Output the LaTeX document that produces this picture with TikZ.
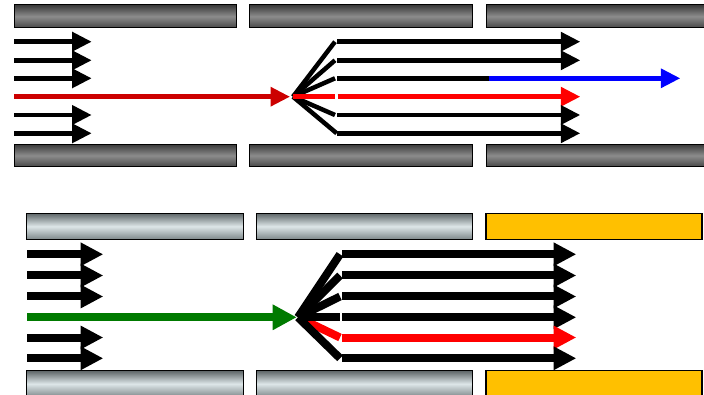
\documentclass[tikz,border=0pt]{standalone}
\usepackage{xcolor}
\usepackage{tikz}
\usetikzlibrary{arrows.meta,calc}
\definecolor{beam}{HTML}{CC0000}
\definecolor{hot}{HTML}{FF0000}
\definecolor{cold}{HTML}{0000FF}
\definecolor{leaf}{HTML}{007A00}
\definecolor{amber}{HTML}{FFC000}
\definecolor{wallTop}{HTML}{3A3A3A}
\definecolor{wallMid}{HTML}{8C8C8C}
\definecolor{wallBot}{HTML}{484848}
\definecolor{glassTop}{HTML}{5E6668}
\definecolor{glassMid}{HTML}{DDE6E8}
\definecolor{glassBot}{HTML}{7E888A}
\tikzset{
  wall/.style={draw=black, line width=1pt, top color=wallTop, bottom color=wallBot, middle color=wallMid},
  glass/.style={draw=black, line width=1.2pt, top color=glassTop, bottom color=glassBot, middle color=glassMid},
  gate/.style={draw=black, line width=1.2pt, fill=amber},
  ray/.style={line width=4.5pt},
  rayhead/.style={ray, -{Triangle[length=19.5pt,width=18.6pt]}},
  bolt/.style={line width=8pt},
  bolthead/.style={bolt, -{Triangle[length=22.6pt,width=22pt]}}
}

\begin{document}
\begin{tikzpicture}[x=1pt,y=-1pt]
  \useasboundingbox (0,0) rectangle (704,395);

  % upper channel walls
  \draw[wall] (14,5) rectangle (236,27.7);
  \draw[wall] (249,5) rectangle (472,27.7);
  \draw[wall] (486.7,5) rectangle (720,27.7);
  \draw[wall] (14,144.3) rectangle (236,166.7);
  \draw[wall] (249,144.3) rectangle (472,166.7);
  \draw[wall] (486.7,144.3) rectangle (720,166.7);

  % lower channel walls
  \draw[glass] (26.7,213.3) rectangle (243.3,239.3);
  \draw[glass] (256.7,213.3) rectangle (472.7,239.3);
  \draw[gate] (486,213.3) rectangle (702,239.3);
  \draw[glass] (26.7,370.7) rectangle (243.3,397);
  \draw[glass] (256.7,370.7) rectangle (472.7,397);
  \draw[gate] (486,370.7) rectangle (702,397);

  % upper: incoming rays
  \coordinate (P) at (293,96.7);
  \coordinate (a1) at (14,41.7);  \coordinate (b1) at (91.7,41.7);
  \coordinate (a2) at (14,60.3);  \coordinate (b2) at (91.7,60.3);
  \coordinate (a3) at (14,78.3);  \coordinate (b3) at (91.7,78.3);
  \coordinate (a5) at (14,115);   \coordinate (b5) at (91.7,115);
  \coordinate (a6) at (14,133.3); \coordinate (b6) at (91.7,133.3);
  \coordinate (a4) at (14,96.7);
  \draw[rayhead] (a1) -- (b1);
  \draw[rayhead] (a2) -- (b2);
  \draw[rayhead] (a3) -- (b3);
  \draw[rayhead] (a5) -- (b5);
  \draw[rayhead] (a6) -- (b6);
  \draw[rayhead, beam] (a4) -- ($(P)+(-3,0)$);

  % upper: fan out of P
  \coordinate (f1) at (335,41.7);  \coordinate (g1) at (337,41.7);  \coordinate (h1) at (580.3,41.7);
  \coordinate (f2) at (335,60.3);  \coordinate (g2) at (337,60.3);  \coordinate (h2) at (580.3,60.3);
  \coordinate (f3) at (335,78.3);  \coordinate (g3) at (337,78.3);  \coordinate (h3) at (488.7,78.3);
  \coordinate (f4) at (335,96.7);  \coordinate (g4) at (337.5,96.7);  \coordinate (h4) at (580.3,96.7);
  \coordinate (f5) at (335,115);   \coordinate (g5) at (337,115);   \coordinate (h5) at (580.3,115);
  \coordinate (f6) at (336.7,133.3); \coordinate (g6) at (337,133.3); \coordinate (h6) at (580.3,133.3);
  \coordinate (out) at (680.3,78.3);
  \draw[ray] (P) -- (f1);
  \draw[ray] (P) -- (f2);
  \draw[ray] (P) -- (f3);
  \draw[ray] (P) -- (f5);
  \draw[ray] (P) -- (f6);
  \draw[ray, hot] (P) -- (f4);
  \draw[rayhead] (g1) -- (h1);
  \draw[rayhead] (g2) -- (h2);
  \draw[ray] (g3) -- (h3);
  \draw[rayhead, cold] (h3) -- (out);
  \draw[rayhead, hot] (g4) -- (h4);
  \draw[rayhead] (g5) -- (h5);
  \draw[rayhead] (g6) -- (h6);

  % lower: incoming bolts
  \coordinate (Q) at (298,317.3);
  \coordinate (c1) at (27,254.3);  \coordinate (d1) at (103.3,254.3);
  \coordinate (c2) at (27,275.5);  \coordinate (d2) at (103.3,275.5);
  \coordinate (c3) at (27,296.5);  \coordinate (d3) at (103.3,296.5);
  \coordinate (c5) at (27,337.5);  \coordinate (d5) at (103.3,337.5);
  \coordinate (c6) at (27,358.3);  \coordinate (d6) at (103.3,358.3);
  \coordinate (c4) at (27,317.3);
  \draw[bolthead] (c1) -- (d1);
  \draw[bolthead] (c2) -- (d2);
  \draw[bolthead] (c3) -- (d3);
  \draw[bolthead] (c5) -- (d5);
  \draw[bolthead] (c6) -- (d6);
  \draw[bolt, leaf, -{Triangle[length=24pt,width=24pt]}] (c4) -- ($(Q)+(-1.3,0)$);

  % lower: fan out of Q
  \coordinate (k1) at (340,254.3);  \coordinate (m1) at (342,254.3);  \coordinate (n1) at (576.3,254.3);
  \coordinate (k2) at (340,275.5);  \coordinate (m2) at (342,275.5);  \coordinate (n2) at (576.3,275.5);
  \coordinate (k3) at (340,296.5);  \coordinate (m3) at (342,296.5);  \coordinate (n3) at (576.3,296.5);
  \coordinate (k4) at (340,317.3);  \coordinate (m4) at (342,317.3);  \coordinate (n4) at (576.3,317.3);
  \coordinate (k5) at (340,337.5);  \coordinate (m5) at (342,337.5);  \coordinate (n5) at (576.3,337.5);
  \coordinate (k6) at (340,358.3);  \coordinate (m6) at (342,358.3);  \coordinate (n6) at (576.3,358.3);
  \draw[bolt, hot] (Q) -- (k5);
  \draw[bolt] (Q) -- (k1);
  \draw[bolt] (Q) -- (k2);
  \draw[bolt] (Q) -- (k3);
  \draw[bolt] (Q) -- (k4);
  \draw[bolt] (Q) -- (k6);
  \draw[bolthead] (m1) -- (n1);
  \draw[bolthead] (m2) -- (n2);
  \draw[bolthead] (m3) -- (n3);
  \draw[bolthead] (m4) -- (n4);
  \draw[bolthead, hot] (m5) -- (n5);
  \draw[bolthead] (m6) -- (n6);
\end{tikzpicture}
\end{document}
